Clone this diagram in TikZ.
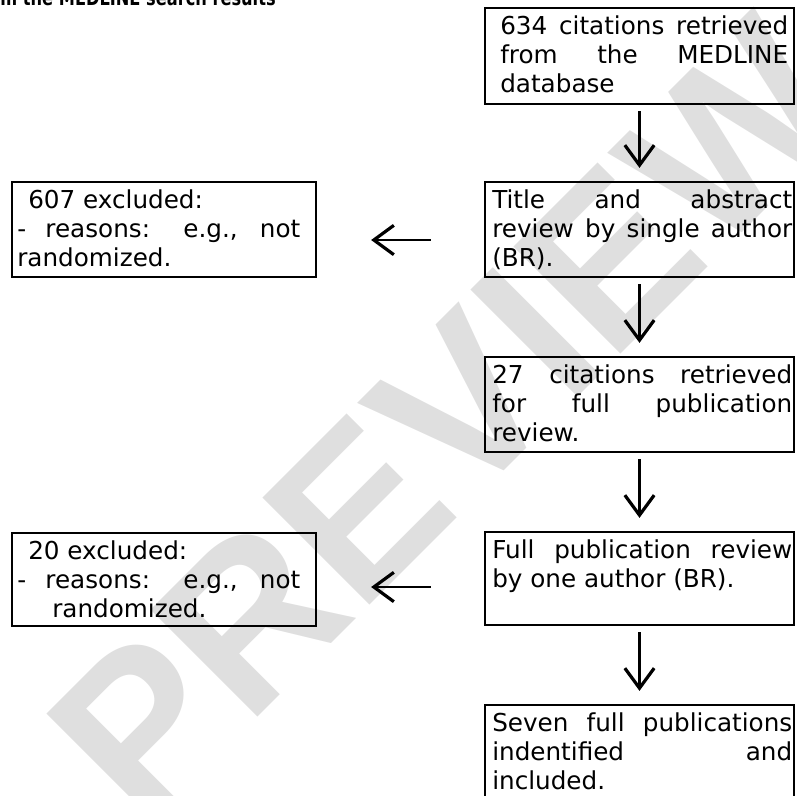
\documentclass[tikz,border=0pt]{standalone}
\usepackage{fontspec}
\setmainfont{DejaVu Sans}
\newfontfamily\wmfont{Liberation Sans}
\usetikzlibrary{arrows.meta,calc}
\definecolor{wmgray}{gray}{0.875}
\newcommand{\jline}[2]{\makebox[#1][s]{#2}}
\begin{document}
\begin{tikzpicture}[x=0.75pt,y=-0.75pt,
  box/.style={draw=black, line width=1.7pt, inner sep=0pt, minimum width=231.75pt},
  lbox/.style={draw=black, line width=1.7pt, inner sep=0pt, minimum width=228pt},
  txt/.style={anchor=base west, inner sep=0pt, align=left, font=\fontsize{18.5}{21.75}\selectfont},
  varr/.style={line width=2.2pt, -{Straight Barb[length=15pt, width=22pt, line width=2.4pt]}, shorten <=4.5pt, shorten >=9.75pt},
  harr/.style={line width=2.2pt, -{Straight Barb[length=15pt, width=22pt, line width=2.4pt]}, shorten <=39.75pt, shorten >=40.5pt},
  wm/.style={rotate=45, inner sep=0pt, text=wmgray, font=\wmfont\bfseries\fontsize{165}{165}\selectfont}]
\useasboundingbox (0,0) rectangle (796,796);
% watermark
\node[wm] (wmark) at (449,419) {PREVIEW};
% title (cut off)
\node[anchor=base east, inner sep=0pt, font=\bfseries\fontsize{16}{18}\selectfont] (title) at (276,6) {\scalebox{0.76}[1]{from the MEDLINE search results}};
% boxes
\node[box, minimum height=72pt] (b1) at (639.5,56) {};
\node[box, minimum height=71.25pt] (b2) at (639.5,229.5) {};
\node[box, minimum height=71.25pt] (b3) at (639.5,404.5) {};
\node[box, minimum height=69.75pt] (b4) at (639.5,578.5) {};
\node[box, minimum height=72pt] (b5) at (639.5,753) {};
\node[lbox, minimum height=71.25pt] (l1) at (164,229.5) {};
\node[lbox, minimum height=69.75pt] (l2) at (164,579.5) {};
% texts (anchor = baseline of the last line)
\node[txt] (t1) at (500,92) {\jline{216pt}{634 citations retrieved}\\\jline{216pt}{from the MEDLINE}\\database};
\node[txt] (t2) at (492,266) {\jline{225pt}{Title and abstract}\\\jline{225pt}{review by single author}\\(BR).};
\node[txt] (t3) at (492,441) {\jline{225pt}{27 citations retrieved}\\\jline{225pt}{for full publication}\\review.};
\node[txt] (t4) at (492,587) {\jline{225pt}{Full publication review}\\by one author (BR).};
\node[txt] (t5) at (492,789) {\jline{225pt}{Seven full publications}\\\jline{225pt}{indentified and}\\included.};
\node[txt] (tl1) at (17,266) {\hspace*{8.25pt}607 excluded:\\\jline{212.25pt}{- reasons: e.g., not}\\randomized.};
\node[txt] (tl2) at (17,617) {\hspace*{8.25pt}20 excluded:\\\jline{212.25pt}{- reasons: e.g., not}\\\hspace*{26.25pt}randomized.};
% connectors
\draw[varr] (b1) -- (b2);
\draw[varr] (b2) -- (b3);
\draw[varr] (b3) -- (b4);
\draw[varr] (b4) -- (b5);
\draw[harr] ($(b2.west)+(0,10.5)$) -- ($(l1.east)+(0,10.5)$);
\draw[harr] ($(b4.west)+(0,8.5)$) -- ($(l2.east)+(0,7.5)$);
\end{tikzpicture}
\end{document}
